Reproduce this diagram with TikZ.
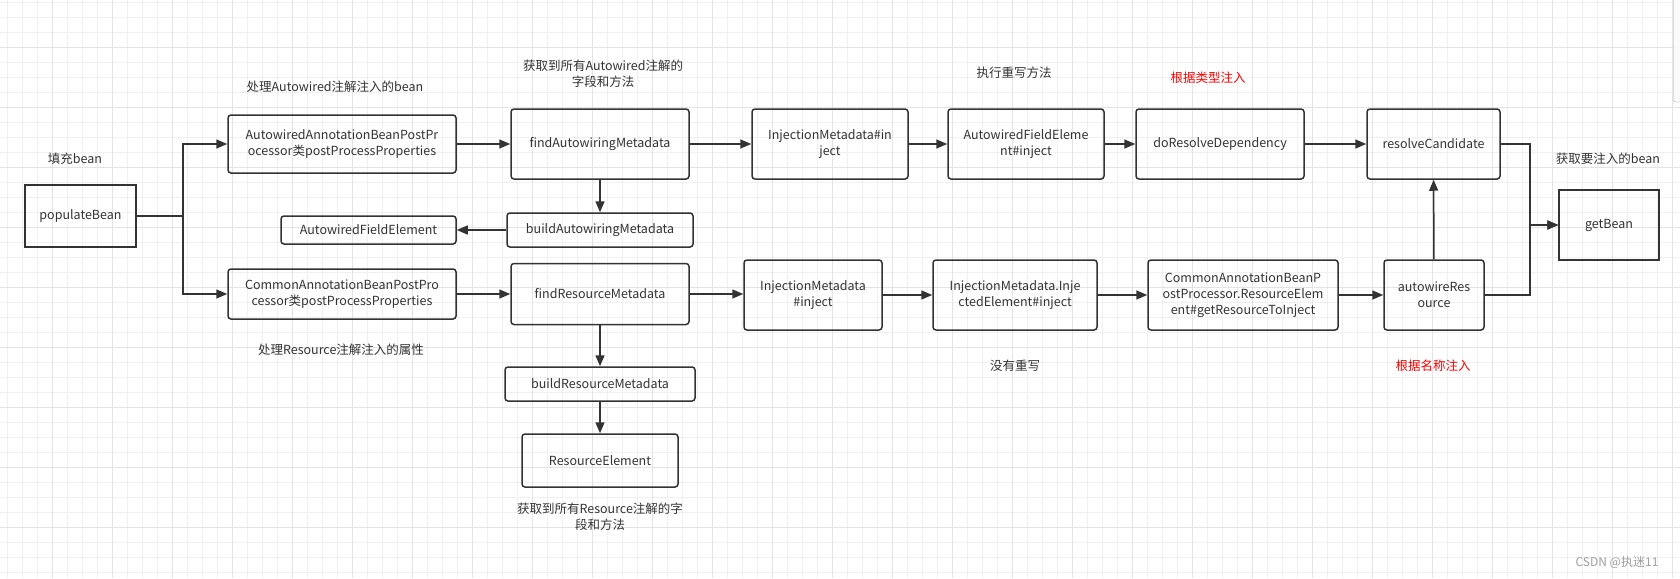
\documentclass[tikz,border=0pt]{standalone}
\usepackage{fontspec}
\setmainfont{Noto Sans CJK SC}
\usetikzlibrary{arrows.meta}
\definecolor{encre}{HTML}{333333}
\definecolor{grille}{HTML}{F0F0F0}
\definecolor{grilleforte}{HTML}{E3E3E3}
\begin{document}
\begin{tikzpicture}[x=1pt,y=-1pt,font=\fontsize{12.5}{16}\selectfont]
			\tikzstyle{fleche}=[-{Triangle[length=11pt,width=9pt]},line width=1.5pt,color=encre]
			\tikzstyle{liaison}=[line width=1.5pt,color=encre]
			\tikzstyle{boite}=[draw=encre,line width=1.5pt,rounded corners=3pt,text=encre,align=center,inner sep=0pt]
			\tikzstyle{carre}=[boite,rounded corners=0pt]
			\tikzstyle{etiquette}=[text=encre,align=center,inner sep=0pt]
			\tikzstyle{rouge}=[etiquette,text=red]
			\def\LigneA{144}
			\def\LigneB{294}
			\def\ColonneA{600}
			% fond quadrille
			\useasboundingbox (0,0) rectangle (1680,578);
			\fill[white] (0,0) rectangle (1680,578);
			\foreach \x in {7.5,22.5,...,1680} \draw[grille,line width=0.9pt] (\x,0) -- (\x,578);
			\foreach \y in {2.3,17.3,...,578} \draw[grille,line width=0.9pt] (0,\y) -- (1680,\y);
			\foreach \x in {52.5,112.5,...,1680} \draw[grilleforte,line width=0.9pt] (\x,0) -- (\x,578);
			\foreach \y in {47.3,107.3,...,578} \draw[grilleforte,line width=0.9pt] (0,\y) -- (1680,\y);
			\draw[gray!70,fill=gray!4,rounded corners=2pt] (1673.5,-5) rectangle (1690,102);
			% noeuds
			\node[carre,minimum width=111pt,minimum height=62pt] (pop) at (80.5,216) {populateBean};
			\node[boite,minimum width=228pt,minimum height=58pt] (awp) at (342,\LigneA) {AutowiredAnnotationBeanPostPr\\ocessor类postProcessProperties};
			\node[boite,minimum width=175pt,minimum height=28pt] (afe) at (368.5,230) {AutowiredFieldElement};
			\node[boite,minimum width=228pt,minimum height=50pt] (cap) at (342,\LigneB) {CommonAnnotationBeanPostPro\\cessor类postProcessProperties};
			\node[boite,minimum width=178pt,minimum height=70pt] (fam) at (\ColonneA,\LigneA) {findAutowiringMetadata};
			\node[boite,minimum width=186pt,minimum height=34pt] (bam) at (\ColonneA,230) {buildAutowiringMetadata};
			\node[boite,minimum width=178pt,minimum height=61pt] (frm) at (\ColonneA,\LigneB) {findResourceMetadata};
			\node[boite,minimum width=190pt,minimum height=34pt] (brm) at (\ColonneA,384) {buildResourceMetadata};
			\node[boite,minimum width=156pt,minimum height=53pt] (re) at (\ColonneA,460.5) {ResourceElement};
			\node[boite,minimum width=156pt,minimum height=70pt] (imi) at (830,\LigneA) {InjectionMetadata\#in\\ject};
			\node[boite,minimum width=156pt,minimum height=70pt] (afei) at (1026,\LigneA) {AutowiredFieldEleme\\nt\#inject};
			\node[boite,minimum width=168pt,minimum height=70pt] (drd) at (1220,\LigneA) {doResolveDependency};
			\node[boite,minimum width=133pt,minimum height=70pt] (rc) at (1433.5,\LigneA) {resolveCandidate};
			\node[carre,minimum width=100pt,minimum height=70pt] (gb) at (1609,225) {getBean};
			\node[boite,minimum width=138pt,minimum height=70pt] (imr) at (813,295) {InjectionMetadata\\\#inject};
			\node[boite,minimum width=164pt,minimum height=70pt] (iei) at (1015,295) {InjectionMetadata.Inje\\ctedElement\#inject};
			\node[boite,minimum width=190pt,minimum height=70pt] (cre) at (1243,295) {CommonAnnotationBeanP\\ostProcessor.ResourceElem\\ent\#getResourceToInject};
			\node[boite,minimum width=100pt,minimum height=70pt] (ar) at (1434,295) {autowireRes\\ource};
			% etiquettes
			\node[etiquette] (lpop) at (75,159) {填充bean};
			\node[etiquette] (lawp) at (335,87) {处理Autowired注解注入的bean};
			\node[etiquette] (lcap) at (341,350) {处理Resource注解注入的属性};
			\node[etiquette] (lfam) at (603,74) {获取到所有Autowired注解的\\字段和方法};
			\node[etiquette] (lre) at (600,517) {获取到所有Resource注解的字\\段和方法};
			\node[etiquette] (lafei) at (1014,73) {执行重写方法};
			\node[etiquette] (liei) at (1015,366) {没有重写};
			\node[rouge] (ldrd) at (1208,78) {根据类型注入};
			\node[rouge] (lar) at (1433,366) {根据名称注入};
			\node[etiquette] (lgb) at (1608,159) {获取要注入的bean};
			\node[etiquette,text=gray!75,font=\fontsize{12}{14}\selectfont] (csdn) at (1617,562) {CSDN @执迷11};
			% liaisons
			\draw[fleche] (pop.east) -- ++(46,0) |- (awp.west);
			\draw[fleche] (pop.east) -- ++(46,0) |- (cap.west);
			\draw[fleche] (awp) -- (fam);
			\draw[fleche] (fam) -- (imi);
			\draw[fleche] (imi) -- (afei);
			\draw[fleche] (afei) -- (drd);
			\draw[fleche] (drd) -- (rc);
			\draw[fleche] (fam) -- (bam);
			\draw[fleche] (bam) -- (afe);
			\draw[fleche] (cap.east) -- (frm.west |- cap.east);
			\draw[fleche] (frm.east) -- (imr.west |- frm.east);
			\draw[fleche] (imr) -- (iei);
			\draw[fleche] (iei) -- (cre);
			\draw[fleche] (cre) -- (ar);
			\draw[fleche] (frm) -- (brm);
			\draw[fleche] (brm) -- (re);
			\draw[fleche] (ar) -- (rc);
			\draw[fleche] (rc.east) -- ++(29,0) |- (gb.west);
			\draw[fleche] (ar.east) -- ++(45,0) |- (gb.west);
\end{tikzpicture}
\end{document}
